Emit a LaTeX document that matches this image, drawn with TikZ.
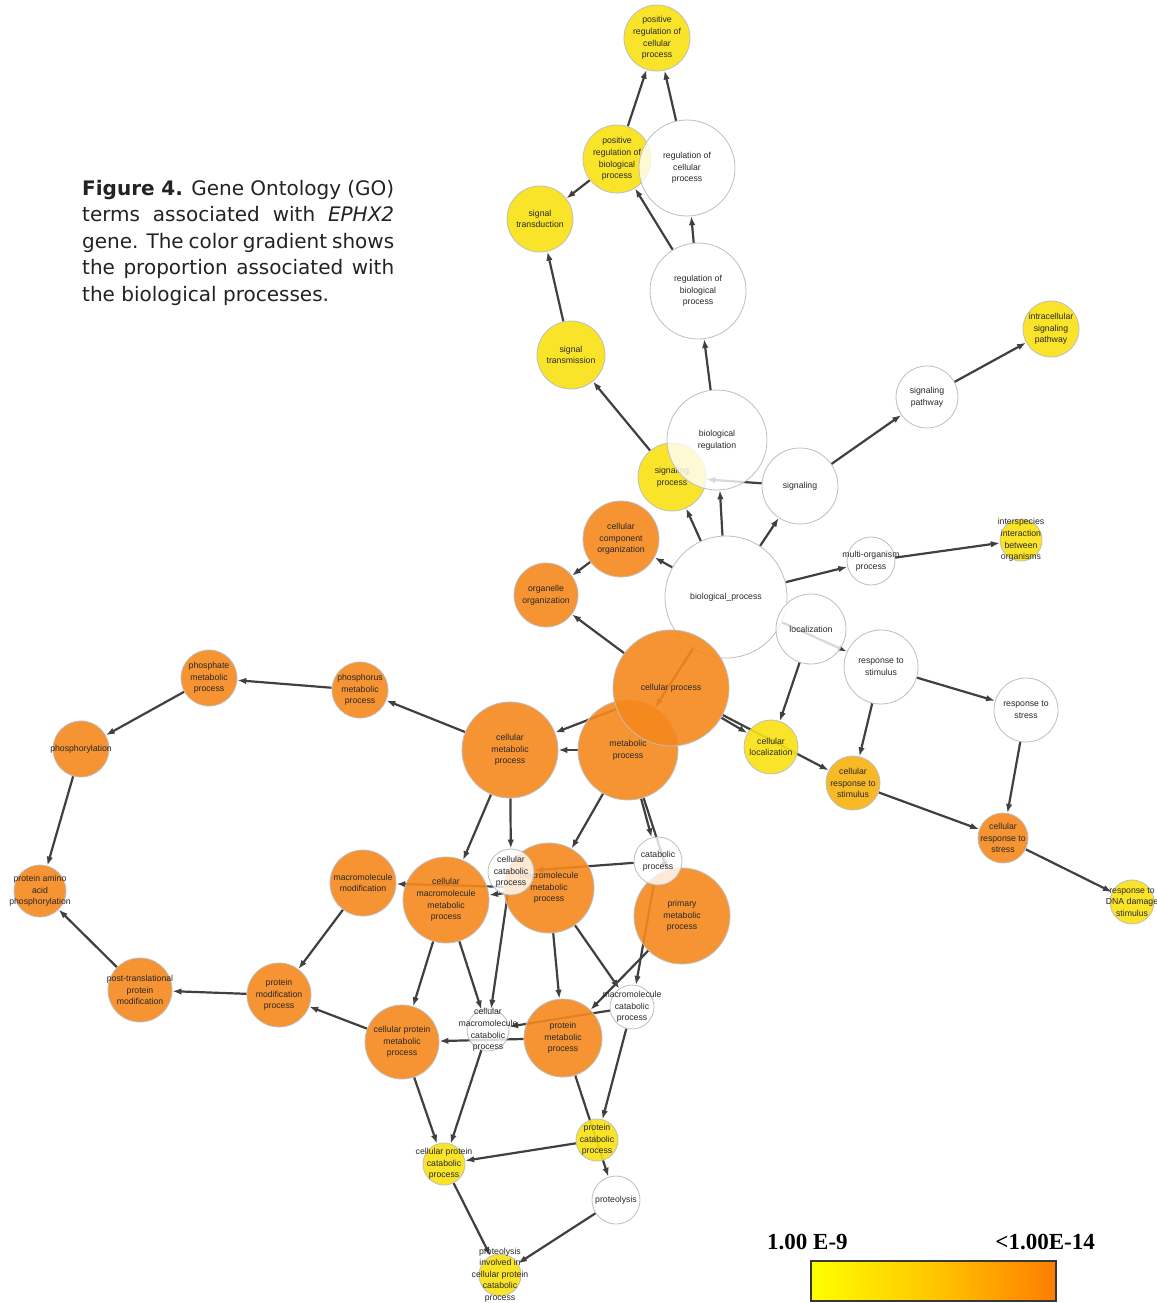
\documentclass[tikz,border=0pt]{standalone}
\usepackage{fontspec}
\setmainfont{Liberation Sans}
\newfontfamily\capfont{DejaVu Sans}
\newfontfamily\legfont{Liberation Serif}
\usetikzlibrary{arrows.meta,backgrounds}
\definecolor{termyellow}{RGB}{249,226,18}
\definecolor{termorange}{RGB}{246,136,28}
\definecolor{termamber}{RGB}{248,178,16}
\definecolor{termline}{RGB}{190,190,190}
\definecolor{termink}{RGB}{40,40,40}
\definecolor{edgegray}{RGB}{64,64,64}
\definecolor{barframe}{RGB}{55,55,55}
\definecolor{baryellow}{RGB}{255,255,0}
\definecolor{barmid}{RGB}{255,198,0}
\definecolor{barorange}{RGB}{255,125,0}
\begin{document}
\begin{tikzpicture}[x=1pt,y=-1pt]
    \tikzstyle{term}=[circle,draw=termline,line width=0.8pt,inner sep=0pt,fill opacity=0.9]
    \tikzstyle{yellowterm}=[term,fill=termyellow]
    \tikzstyle{orangeterm}=[term,fill=termorange]
    \tikzstyle{amberterm}=[term,fill=termamber]
    \tikzstyle{whiteterm}=[term,fill=white,fill opacity=0.8]
    \tikzstyle{termtext}=[align=center,text=termink,inner sep=0pt,font=\fontsize{8.7}{11.6}\selectfont]
    \tikzstyle{isa}=[draw=edgegray,line width=2.2pt,-{Latex[length=9pt,width=6.5pt]}]
    \useasboundingbox (0,0) rectangle (1156,1303);

    \node[yellowterm,minimum size=66pt,label={[termtext]center:{positive\\regulation of\\cellular\\process}}] (posregcell) at (657,38) {};
    \node[yellowterm,minimum size=68pt,label={[termtext]center:{positive\\regulation of\\biological\\process}}] (posregbio) at (617,159) {};
    \node[whiteterm,minimum size=96pt,label={[termtext]center:{regulation of\\cellular\\process}}] (regcell) at (687,168) {};
    \node[yellowterm,minimum size=66pt,label={[termtext]center:{signal\\transduction}}] (sigtrans) at (540,219) {};
    \node[whiteterm,minimum size=96pt,label={[termtext]center:{regulation of\\biological\\process}}] (regbio) at (698,291) {};
    \node[yellowterm,minimum size=68pt,label={[termtext]center:{signal\\transmission}}] (sigtransm) at (571,355) {};
    \node[yellowterm,minimum size=56pt,label={[termtext]center:{intracellular\\signaling\\pathway}}] (intra) at (1051,329) {};
    \node[whiteterm,minimum size=62pt,label={[termtext]center:{signaling\\pathway}}] (sigpath) at (927,397) {};
    \node[yellowterm,minimum size=68pt,label={[termtext]center:{signaling\\process}}] (sigproc) at (672,477) {};
    \node[whiteterm,minimum size=100pt,label={[termtext]center:{biological\\regulation}}] (bioreg) at (717,440) {};
    \node[whiteterm,minimum size=76pt,label={[termtext]center:{signaling}}] (signaling) at (800,486) {};
    \node[orangeterm,minimum size=76pt,label={[termtext]center:{cellular\\component\\organization}}] (ccorg) at (621,539) {};
    \node[yellowterm,minimum size=42pt,label={[termtext]center:{interspecies\\interaction\\between\\organisms}}] (interspecies) at (1021,540) {};
    \node[whiteterm,minimum size=48pt,label={[termtext]center:{multi-organism\\process}}] (multi) at (871,561) {};
    \node[orangeterm,minimum size=64pt,label={[termtext]center:{organelle\\organization}}] (organelle) at (546,595) {};
    \node[whiteterm,minimum size=122pt,label={[termtext]center:{biological\_process}}] (bioproc) at (726,597) {};
    \node[whiteterm,minimum size=70pt,label={[termtext]center:{localization}}] (loc) at (811,629) {};
    \node[whiteterm,minimum size=74pt,label={[termtext]center:{response to\\stimulus}}] (respstim) at (881,667) {};
    \node[orangeterm,minimum size=100pt,label={[termtext]center:{metabolic\\process}}] (metproc) at (628,750) {};
    \node[orangeterm,minimum size=116pt,label={[termtext]center:{cellular process}}] (cellproc) at (671,688) {};
    \node[orangeterm,minimum size=56pt,label={[termtext]center:{phosphate\\metabolic\\process}}] (phosphate) at (209,678) {};
    \node[orangeterm,minimum size=56pt,label={[termtext]center:{phosphorus\\metabolic\\process}}] (phosphorus) at (360,690) {};
    \node[whiteterm,minimum size=64pt,label={[termtext]center:{response to\\stress}}] (respstress) at (1026,710) {};
    \node[orangeterm,minimum size=56pt,label={[termtext]center:{phosphorylation}}] (phosphoryl) at (81,749) {};
    \node[orangeterm,minimum size=96pt,label={[termtext]center:{cellular\\metabolic\\process}}] (cellmet) at (510,750) {};
    \node[yellowterm,minimum size=54pt,label={[termtext]center:{cellular\\localization}}] (cellloc) at (771,747) {};
    \node[amberterm,minimum size=54pt,label={[termtext]center:{cellular\\response to\\stimulus}}] (cellrespstim) at (853,783) {};
    \node[orangeterm,minimum size=50pt,label={[termtext]center:{cellular\\response to\\stress}}] (cellrespstress) at (1003,838) {};
    \node[yellowterm,minimum size=44pt,label={[termtext]center:{response to\\DNA damage\\stimulus}}] (dnadamage) at (1132,902) {};
    \node[orangeterm,minimum size=52pt,label={[termtext]center:{protein amino\\acid\\phosphorylation}}] (paap) at (40,891) {};
    \node[orangeterm,minimum size=66pt,label={[termtext]center:{macromolecule\\modification}}] (macromod) at (363,883) {};
    \node[orangeterm,minimum size=86pt,label={[termtext]center:{cellular\\macromolecule\\metabolic\\process}}] (cmmp) at (446,900) {};
    \node[orangeterm,minimum size=90pt,label={[termtext]center:{macromolecule\\metabolic\\process}}] (mmp) at (549,888) {};
    \node[whiteterm,minimum size=46pt,label={[termtext]center:{cellular\\catabolic\\process}}] (cellcat) at (511,872) {};
    \node[orangeterm,minimum size=96pt,label={[termtext]center:{primary\\metabolic\\process}}] (primary) at (682,916) {};
    \node[whiteterm,minimum size=48pt,label={[termtext]center:{catabolic\\process}}] (catproc) at (658,861) {};
    \node[orangeterm,minimum size=64pt,label={[termtext]center:{post-translational\\protein\\modification}}] (ptpm) at (140,990) {};
    \node[orangeterm,minimum size=64pt,label={[termtext]center:{protein\\modification\\process}}] (pmp) at (279,995) {};
    \node[whiteterm,minimum size=44pt,label={[termtext]center:{macromolecule\\catabolic\\process}}] (macrocat) at (632,1007) {};
    \node[whiteterm,minimum size=42pt,label={[termtext]center:{cellular\\macromolecule\\catabolic\\process}}] (cmcp) at (488,1030) {};
    \node[orangeterm,minimum size=78pt,label={[termtext]center:{protein\\metabolic\\process}}] (protmet) at (563,1038) {};
    \node[orangeterm,minimum size=74pt,label={[termtext]center:{cellular protein\\metabolic\\process}}] (cpmp) at (402,1042) {};
    \node[yellowterm,minimum size=42pt,label={[termtext]center:{protein\\catabolic\\process}}] (protcat) at (597,1140) {};
    \node[yellowterm,minimum size=42pt,label={[termtext]center:{cellular protein\\catabolic\\process}}] (cpcp) at (444,1164) {};
    \node[whiteterm,minimum size=48pt,label={[termtext]center:{proteolysis}}] (proteolysis) at (616,1200) {};
    \node[yellowterm,minimum size=42pt,label={[termtext]center:{proteolysis\\involved in\\cellular protein\\catabolic\\process}}] (pinv) at (500,1275) {};

    \node[anchor=north west,text width=312pt,align=justify,inner sep=0pt,text={rgb,255:red,35;green,35;blue,35},font=\capfont\fontsize{20}{26.5}\selectfont] (caption) at (82,180) {\textbf{Figure 4.} Gene Ontology (GO)\linebreak terms associated with \textit{EPHX2}\linebreak gene. The color gradient shows\linebreak the proportion associated with\linebreak the biological processes.};

    \node[anchor=base west,inner sep=0pt,font=\legfont\bfseries\fontsize{23}{23}\selectfont] (lowlabel) at (767,1249) {1.00 E-9};
    \node[anchor=base east,inner sep=0pt,font=\legfont\bfseries\fontsize{23}{23}\selectfont] (highlabel) at (1095,1249) {<1.00E-14};
    \node[draw=barframe,line width=1.4pt,minimum width=245pt,minimum height=40pt,inner sep=0pt,left color=baryellow,right color=barorange,middle color=barmid] (scalebar) at (933.5,1281) {};

    \begin{scope}[on background layer]
        \fill[white] (0,0) rectangle (1156,1303);
    \end{scope}
    \begin{scope}[on background layer]
        \draw[isa] (posregbio) -- (posregcell);
        \draw[isa] (regcell) -- (posregcell);
        \draw[isa] (posregbio) -- (sigtrans);
        \draw[isa] (regbio) -- (posregbio);
        \draw[isa] (regbio) -- (regcell);
        \draw[isa] (sigtransm) -- (sigtrans);
        \draw[isa] (sigproc) -- (sigtransm);
        \draw[isa] (bioreg) -- (regbio);
        \draw[isa] (bioproc) -- (sigproc);
        \draw[isa] (bioproc) -- (bioreg);
        \draw[isa] (bioproc) -- (signaling);
        \draw[isa] (signaling) -- (sigproc);
        \draw[isa] (signaling) -- (sigpath);
        \draw[isa] (sigpath) -- (intra);
        \draw[isa] (bioproc) -- (ccorg);
        \draw[isa] (ccorg) -- (organelle);
        \draw[isa] (cellproc) -- (organelle);
        \draw[isa] (bioproc) -- (multi);
        \draw[isa] (multi) -- (interspecies);
        \draw[isa] (bioproc) -- (metproc);
        \draw[isa] (bioproc) -- (respstim);
        \draw[isa] (loc) -- (cellloc);
        \draw[isa] (respstim) -- (cellrespstim);
        \draw[isa] (respstim) -- (respstress);
        \draw[isa] (respstress) -- (cellrespstress);
        \draw[isa] (cellrespstim) -- (cellrespstress);
        \draw[isa] (cellrespstress) -- (dnadamage);
        \draw[isa] (cellproc) -- (cellloc);
        \draw[isa] (cellproc) -- (cellrespstim);
        \draw[isa] (cellproc) -- (cellmet);
        \draw[isa] (metproc) -- (cellmet);
        \draw[isa] (cellmet) -- (phosphorus);
        \draw[isa] (phosphorus) -- (phosphate);
        \draw[isa] (phosphate) -- (phosphoryl);
        \draw[isa] (phosphoryl) -- (paap);
        \draw[isa] (ptpm) -- (paap);
        \draw[isa] (pmp) -- (ptpm);
        \draw[isa] (macromod) -- (pmp);
        \draw[isa] (cpmp) -- (pmp);
        \draw[isa] (cellmet) -- (cmmp);
        \draw[isa] (cellmet) -- (cellcat);
        \draw[isa] (metproc) -- (mmp);
        \draw[isa] (metproc) -- (catproc);
        \draw[isa] (metproc) -- (primary);
        \draw[isa] (catproc) -- (cellcat);
        \draw[isa] (mmp) -- (macromod);
        \draw[isa] (mmp) -- (cmmp);
        \draw[isa] (cellcat) -- (cmcp);
        \draw[isa] (cmmp) -- (cpmp);
        \draw[isa] (cmmp) -- (cmcp);
        \draw[isa] (mmp) -- (protmet);
        \draw[isa] (mmp) -- (macrocat);
        \draw[isa] (primary) -- (protmet);
        \draw[isa] (catproc) -- (macrocat);
        \draw[isa] (macrocat) -- (cmcp);
        \draw[isa] (protmet) -- (cpmp);
        \draw[isa] (cmcp) -- (cpcp);
        \draw[isa] (cpmp) -- (cpcp);
        \draw[isa] (protmet) -- (proteolysis);
        \draw[isa] (macrocat) -- (protcat);
        \draw[isa] (protcat) -- (cpcp);
        \draw[isa] (cpcp) -- (pinv);
        \draw[isa] (proteolysis) -- (pinv);
    \end{scope}
\end{tikzpicture}
\end{document}
